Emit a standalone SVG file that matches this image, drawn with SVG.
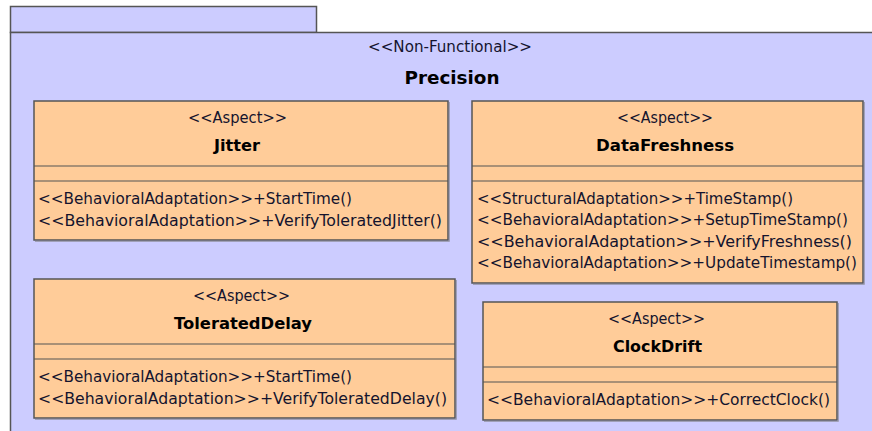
<svg xmlns="http://www.w3.org/2000/svg" width="872" height="431" viewBox="0 0 872 431">
<defs>
<style>
.pkg{fill:#CCCCFF;stroke:#555555;stroke-width:1.5}
.box{fill:#FFCC99;stroke:#555555;stroke-width:1.5}
.sh{fill:none;stroke:#A0A0B8;stroke-width:1}
.div{stroke:#555555;stroke-width:1.2}
text{font-family:"DejaVu Sans","Liberation Sans",sans-serif;font-size:15px;fill:#14142e}
.st{text-anchor:middle}
.nm{text-anchor:middle;font-weight:bold;font-size:16px;fill:#000}
.pn{text-anchor:middle;font-weight:bold;font-size:18px;fill:#000}
</style>
</defs>
<g id="package-Precision">
<rect class="pkg" x="10.5" y="6.5" width="306" height="26"/>
<rect class="pkg" x="10.5" y="32.5" width="880" height="420"/>
<text class="st" x="450" y="52" textLength="164" lengthAdjust="spacingAndGlyphs">&lt;&lt;Non-Functional&gt;&gt;</text>
<text class="pn" x="452" y="84" textLength="95" lengthAdjust="spacingAndGlyphs">Precision</text>
</g>
<g id="node-Jitter">
<path class="sh" d="M449.5,102 V241.5 H35"/>
<rect class="box" x="34" y="101" width="414" height="139"/>
<line class="div" x1="34" y1="166" x2="448" y2="166"/>
<line class="div" x1="34" y1="181" x2="448" y2="181"/>
<text class="st" x="237.5" y="123" textLength="99" lengthAdjust="spacingAndGlyphs">&lt;&lt;Aspect&gt;&gt;</text>
<text class="nm" x="237" y="151" textLength="46" lengthAdjust="spacingAndGlyphs">Jitter</text>
<text x="38" y="203.5" textLength="314" lengthAdjust="spacingAndGlyphs">&lt;&lt;BehavioralAdaptation&gt;&gt;+StartTime()</text>
<text x="38" y="225.5" textLength="404" lengthAdjust="spacingAndGlyphs">&lt;&lt;BehavioralAdaptation&gt;&gt;+VerifyToleratedJitter()</text>
</g>
<g id="node-DataFreshness">
<path class="sh" d="M864.5,102 V284.5 H473"/>
<rect class="box" x="472" y="101" width="391" height="182"/>
<line class="div" x1="472" y1="166" x2="863" y2="166"/>
<line class="div" x1="472" y1="181" x2="863" y2="181"/>
<text class="st" x="665" y="123" textLength="96" lengthAdjust="spacingAndGlyphs">&lt;&lt;Aspect&gt;&gt;</text>
<text class="nm" x="665" y="151" textLength="138" lengthAdjust="spacingAndGlyphs">DataFreshness</text>
<text x="477" y="203.5" textLength="316" lengthAdjust="spacingAndGlyphs">&lt;&lt;StructuralAdaptation&gt;&gt;+TimeStamp()</text>
<text x="477" y="225" textLength="371" lengthAdjust="spacingAndGlyphs">&lt;&lt;BehavioralAdaptation&gt;&gt;+SetupTimeStamp()</text>
<text x="477" y="246.5" textLength="375" lengthAdjust="spacingAndGlyphs">&lt;&lt;BehavioralAdaptation&gt;&gt;+VerifyFreshness()</text>
<text x="477" y="268" textLength="380" lengthAdjust="spacingAndGlyphs">&lt;&lt;BehavioralAdaptation&gt;&gt;+UpdateTimestamp()</text>
</g>
<g id="node-ToleratedDelay">
<path class="sh" d="M456.5,280 V419.5 H35"/>
<rect class="box" x="34" y="279" width="421" height="139"/>
<line class="div" x1="34" y1="344" x2="455" y2="344"/>
<line class="div" x1="34" y1="359" x2="455" y2="359"/>
<text class="st" x="241.5" y="301" textLength="97" lengthAdjust="spacingAndGlyphs">&lt;&lt;Aspect&gt;&gt;</text>
<text class="nm" x="243" y="329" textLength="138" lengthAdjust="spacingAndGlyphs">ToleratedDelay</text>
<text x="38" y="381.5" textLength="314" lengthAdjust="spacingAndGlyphs">&lt;&lt;BehavioralAdaptation&gt;&gt;+StartTime()</text>
<text x="38" y="403.5" textLength="409" lengthAdjust="spacingAndGlyphs">&lt;&lt;BehavioralAdaptation&gt;&gt;+VerifyToleratedDelay()</text>
</g>
<g id="node-ClockDrift">
<path class="sh" d="M838.5,303 V421.5 H484"/>
<rect class="box" x="483" y="302" width="354" height="118"/>
<line class="div" x1="483" y1="367" x2="837" y2="367"/>
<line class="div" x1="483" y1="382" x2="837" y2="382"/>
<text class="st" x="656.5" y="324" textLength="97" lengthAdjust="spacingAndGlyphs">&lt;&lt;Aspect&gt;&gt;</text>
<text class="nm" x="657.5" y="352" textLength="89" lengthAdjust="spacingAndGlyphs">ClockDrift</text>
<text x="487" y="404.5" textLength="343" lengthAdjust="spacingAndGlyphs">&lt;&lt;BehavioralAdaptation&gt;&gt;+CorrectClock()</text>
</g>
<g id="connectors"/>
</svg>
